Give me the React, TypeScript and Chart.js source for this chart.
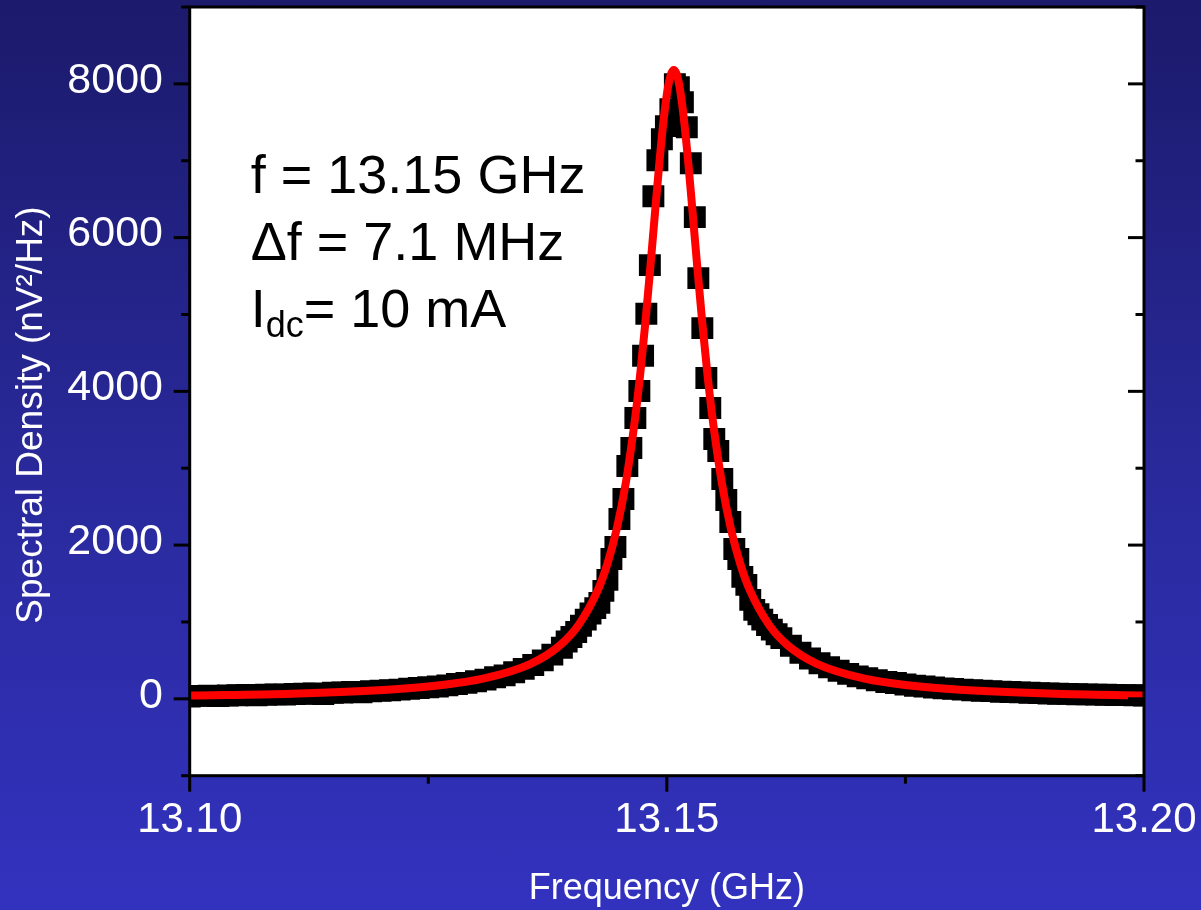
import { useEffect, useRef } from "react";
import { Chart, registerables } from "chart.js";

Chart.register(...registerables);

// ---------- data ----------
// Measured spectrum (black squares): frequency in GHz
const dataFreq: number[] = [
  13.100, 13.101, 13.102, 13.103, 13.104, 13.105, 13.106, 13.107, 13.108, 13.109,
  13.110, 13.111, 13.112, 13.113, 13.114, 13.115, 13.116, 13.117, 13.118, 13.119,
  13.120, 13.121, 13.122, 13.123, 13.124, 13.125, 13.126, 13.127, 13.128, 13.129,
  13.130, 13.131, 13.132, 13.133, 13.134, 13.135, 13.136, 13.137, 13.138, 13.139,
  13.1395, 13.1400, 13.1405, 13.1410, 13.1415, 13.1420, 13.1425,
  13.14293, 13.14335, 13.14377, 13.14419, 13.14461, 13.14503, 13.14545, 13.14586,
  13.14628, 13.14670, 13.14712, 13.14751, 13.14785, 13.14822, 13.14859, 13.14901,
  13.14948, 13.14990, 13.15037, 13.15084, 13.15126, 13.15168, 13.15209, 13.15251,
  13.15293, 13.15330, 13.15372, 13.15414, 13.15455, 13.15497, 13.15539, 13.15581,
  13.15623, 13.15665, 13.15707, 13.15749, 13.15791, 13.15833, 13.15874, 13.15916,
  13.1596, 13.1600, 13.1605, 13.1610, 13.1615,
  13.162, 13.163, 13.164, 13.165, 13.166, 13.167, 13.168, 13.169, 13.170, 13.171,
  13.172, 13.173, 13.174, 13.175, 13.176, 13.177, 13.178, 13.179, 13.180, 13.181,
  13.182, 13.183, 13.184, 13.185, 13.186, 13.187, 13.188, 13.189, 13.190, 13.191,
  13.192, 13.193, 13.194, 13.195, 13.196, 13.197, 13.198, 13.199, 13.200,
];
// Measured spectral density (nV^2/Hz)
const dataDensity: number[] = [
  30, 38, 41, 36, 44, 47, 50, 45, 52, 58,
  55, 62, 66, 70, 63, 78, 82, 90, 86, 98,
  105, 112, 120, 131, 140, 150, 160, 175, 192, 208,
  228, 250, 280, 305, 345, 390, 440, 500, 575, 665,
  745, 805, 870, 950, 1030, 1110, 1180,
  1248, 1404, 1547, 1820, 1976, 2340, 2600, 3029,
  3263, 3653, 4004, 4463, 5009, 5642, 6539, 7007,
  7280, 7450, 7670, 7995, 7956, 7761, 7436, 6968,
  6266, 5473, 4823, 4173, 3783, 3380, 3224, 2860,
  2587, 2301, 1950, 1820, 1586, 1482, 1287, 1157,
  1100, 1030, 960, 900, 840,
  790, 690, 600, 525, 462, 410, 365, 325, 292, 268,
  242, 220, 205, 186, 170, 160, 148, 136, 130, 120,
  112, 106, 100, 93, 88, 84, 78, 74, 70, 67,
  64, 60, 58, 55, 52, 50, 48, 46, 43,
];

// Fitted curve (red line)
const fitFreq: number[] = [
  13.1, 13.11073, 13.12073, 13.12573, 13.13073, 13.13573, 13.13873, 13.14073,
  13.14273, 13.14373, 13.14473, 13.14573, 13.14673, 13.14723, 13.14773, 13.14823,
  13.14873, 13.14923, 13.14973, 13.15023, 13.15073, 13.15123, 13.15173, 13.15223,
  13.15273, 13.15323, 13.15373, 13.15423, 13.15473, 13.15573, 13.15673, 13.15773,
  13.15873, 13.16073, 13.16273, 13.16573, 13.17073, 13.17573, 13.18073, 13.19073, 13.2,
];
const fitDensity: number[] = [
  42, 67, 119, 170, 262, 455, 689, 957,
  1403, 1741, 2201, 2833, 3705, 4250, 4871, 5558,
  6283, 6993, 7606, 8029, 8180, 8029, 7606, 6993,
  6283, 5558, 4871, 4250, 3705, 2833, 2201, 1741,
  1403, 957, 689, 455, 262, 170, 119, 67, 44,
];

// Axes
const xMin = 13.1;
const xMax = 13.2;
const yMin = -1000;
const yMax = 9000;
const xTickValues: number[] = [13.1, 13.15, 13.2];
const xMinorTicks: number[] = [13.125, 13.175];
const yTickValues: number[] = [0, 2000, 4000, 6000, 8000];
const yMinorTicks: number[] = [-1000, 1000, 3000, 5000, 7000, 9000];

// Texts
const xTitle = "Frequency (GHz)";
const yTitle = "Spectral Density (nV\u00B2/Hz)";
const annotationLines: string[] = ["f = 13.15 GHz", "\u0394f = 7.1 MHz"];
const currentMain = "I";
const currentSub = "dc";
const currentRest = "= 10 mA";

const FONT = '"Liberation Sans", Arial, Helvetica, sans-serif';

const framePlugin = {
  id: "frameAndText",
  beforeDraw(chart: any) {
    const { ctx, chartArea: a } = chart;
    ctx.save();
    ctx.fillStyle = "#ffffff";
    ctx.fillRect(a.left, a.top, a.right - a.left, a.bottom - a.top);
    ctx.restore();
  },
  afterDraw(chart: any) {
    const { ctx, chartArea: a, scales } = chart;
    const xs = scales.x;
    const ys = scales.y;
    ctx.save();
    ctx.strokeStyle = "#000000";
    ctx.lineWidth = 3;
    ctx.lineCap = "butt";
    ctx.strokeRect(a.left, a.top, a.right - a.left, a.bottom - a.top);
    const line = (x1: number, y1: number, x2: number, y2: number) => {
      ctx.beginPath();
      ctx.moveTo(x1, y1);
      ctx.lineTo(x2, y2);
      ctx.stroke();
    };
    for (const v of yTickValues) {
      const p = ys.getPixelForValue(v);
      line(a.left - 16, p, a.left, p);
      line(a.right - 16, p, a.right, p);
    }
    for (const v of yMinorTicks) {
      const p = ys.getPixelForValue(v);
      line(a.left - 8.5, p, a.left, p);
      line(a.right - 8.5, p, a.right, p);
    }
    for (const v of xTickValues) {
      const p = xs.getPixelForValue(v);
      line(p, a.bottom, p, a.bottom + 16);
    }
    for (const v of xMinorTicks) {
      const p = xs.getPixelForValue(v);
      line(p, a.bottom, p, a.bottom + 8);
    }

    // annotation text
    ctx.fillStyle = "#000000";
    ctx.textBaseline = "alphabetic";
    ctx.textAlign = "left";
    const tx = a.left + 61;
    ctx.font = `54px ${FONT}`;
    ctx.fillText(annotationLines[0], tx, a.top + 186);
    ctx.fillText(annotationLines[1], tx, a.top + 253);
    const b3 = a.top + 320;
    ctx.fillText(currentMain, tx, b3);
    const wI = ctx.measureText(currentMain).width;
    ctx.font = `36px ${FONT}`;
    ctx.fillText(currentSub, tx + wI, b3 + 10);
    const wSub = ctx.measureText(currentSub).width;
    ctx.font = `54px ${FONT}`;
    ctx.fillText(currentRest, tx + wI + wSub, b3);

    // y-axis title
    ctx.fillStyle = "#ffffff";
    ctx.font = `37px ${FONT}`;
    ctx.textAlign = "center";
    ctx.textBaseline = "middle";
    ctx.translate(31.5, 415);
    ctx.rotate(-Math.PI / 2);
    ctx.fillText(yTitle, 0, 0);
    ctx.restore();
  },
};

export default function App() {
  const canvasRef = useRef<HTMLCanvasElement | null>(null);

  useEffect(() => {
    const canvas = canvasRef.current;
    if (!canvas) return;
    const fitPoints = fitFreq.map((f, i) => ({ x: f, y: fitDensity[i] }));
    const dataPoints = dataFreq.map((f, i) => ({ x: f, y: dataDensity[i] }));

    const chart = new Chart(canvas, {
      type: "scatter",
      data: {
        datasets: [
          {
            label: "Fit",
            data: fitPoints,
            showLine: true,
            borderColor: "#ff0000",
            backgroundColor: "#ff0000",
            borderWidth: 8,
            pointRadius: 0,
            cubicInterpolationMode: "monotone",
            clip: 0,
          } as any,
          {
            label: "Data",
            data: dataPoints,
            showLine: false,
            pointStyle: "rect",
            pointRadius: 15.5,
            pointBackgroundColor: "#000000",
            pointBorderWidth: 0,
            backgroundColor: "#000000",
            borderColor: "#000000",
            clip: 0,
          } as any,
        ],
      },
      options: {
        animation: false,
        responsive: true,
        maintainAspectRatio: false,
        events: [],
        layout: { autoPadding: false, padding: { top: 7, right: 57, bottom: 0, left: 0 } },
        plugins: {
          legend: { display: false },
          tooltip: { enabled: false },
        },
        scales: {
          x: {
            type: "linear",
            min: xMin,
            max: xMax,
            grid: { display: false, drawTicks: false },
            border: { display: false },
            afterBuildTicks: (scale: any) => {
              scale.ticks = xTickValues.map((v) => ({ value: v }));
            },
            afterFit: (scale: any) => {
              scale.height = 134.3;
              scale.paddingLeft = 0;
              scale.paddingRight = 0;
            },
            ticks: {
              autoSkip: false,
              maxRotation: 0,
              padding: 19.5,
              color: "#ffffff",
              font: { size: 42, family: FONT },
              callback: (v: any) => Number(v).toFixed(2),
            },
            title: {
              display: true,
              text: xTitle,
              color: "#ffffff",
              font: { size: 36, family: FONT, lineHeight: 1 },
              padding: { top: 0, bottom: 2.7 },
            },
          },
          y: {
            type: "linear",
            min: yMin,
            max: yMax,
            grid: { display: false, drawTicks: false },
            border: { display: false },
            afterBuildTicks: (scale: any) => {
              scale.ticks = yTickValues.map((v) => ({ value: v }));
            },
            afterFit: (scale: any) => {
              scale.width = 189.7;
              scale.paddingTop = 0;
              scale.paddingBottom = 0;
            },
            ticks: {
              autoSkip: false,
              padding: 26.7,
              labelOffset: -3,
              color: "#ffffff",
              font: { size: 43, family: FONT },
              callback: (v: any) => String(v),
            },
          },
        },
      },
      plugins: [framePlugin],
    } as any);

    return () => chart.destroy();
  }, []);

  return (
    <div
      style={{
        position: "fixed",
        left: 0,
        top: 0,
        width: 1201,
        height: 910,
        background: "linear-gradient(to bottom, #1b1a6b 0%, #2a2a9e 55%, #3232bf 100%)",
      }}
    >
      <canvas ref={canvasRef} />
    </div>
  );
}
